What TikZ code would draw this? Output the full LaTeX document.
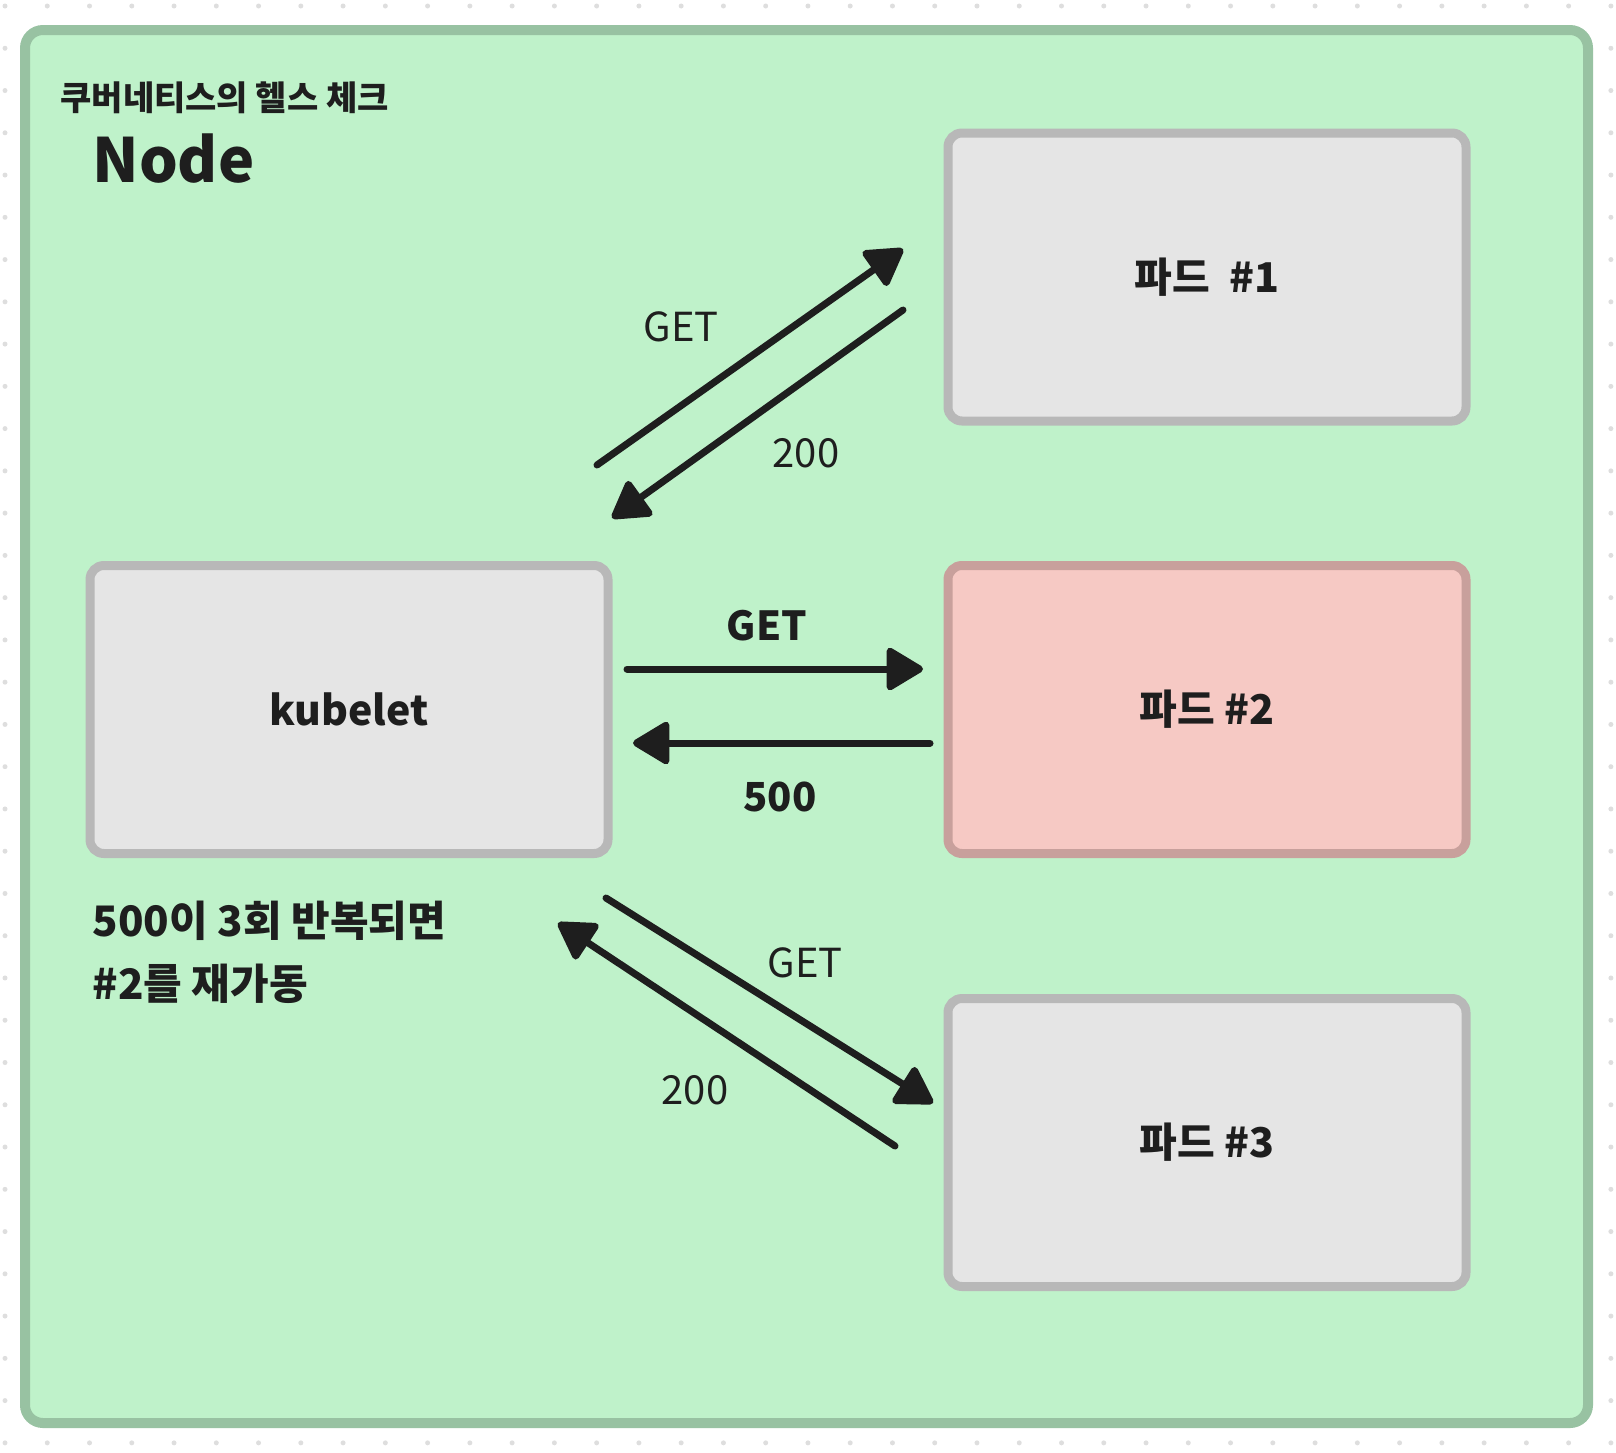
\documentclass[tikz,border=0pt]{standalone}
\usepackage{fontspec}
\setmainfont{Noto Sans CJK KR}
\usepackage{tikz}
\usetikzlibrary{arrows.meta, positioning}

\definecolor{nodegreen}{HTML}{BFF2CA}
\definecolor{nodeedge}{HTML}{98C2A2}
\definecolor{boxfill}{HTML}{E5E5E5}
\definecolor{boxedge}{HTML}{B8B8B8}
\definecolor{failfill}{HTML}{F6C9C4}
\definecolor{failedge}{HTML}{C8A09C}
\definecolor{ink}{HTML}{1E1E1E}
\definecolor{dotgray}{HTML}{DEDEDE}

\tikzset{
    podbox/.style={draw=boxedge, fill=boxfill, line width=9pt, rounded corners=14pt,
        minimum width=518pt, minimum height=288pt, text=ink,
        font=\fontsize{41}{48}\selectfont\bfseries},
    failbox/.style={podbox, draw=failedge, fill=failfill},
    msg/.style={text=ink, font=\fontsize{40}{48}\selectfont},
    msgbold/.style={msg, font=\fontsize{40}{48}\selectfont\bfseries},
    call/.style={draw=ink, line width=7pt, line cap=round, ->},
}

\begin{document}
\begin{tikzpicture}[x=1pt, y=-1pt, >={Triangle[length=40pt, width=46pt, round]}]
    \useasboundingbox (0,0) rectangle (1616,1452);

    % Canvas dots
    \foreach \i in {0,...,38}
        \foreach \j in {0,...,34}
            \fill[dotgray] ({5+42.26*\i},{6+42.26*\j}) circle (2.5pt);

    % Node frame
    \draw[draw=nodeedge, fill=nodegreen, line width=10pt, rounded corners=18pt]
        (25,30) rectangle (1588,1423);
    \node[anchor=base west, text=ink, font=\fontsize{34}{40}\selectfont\bfseries]
        (title) at (57,110) {쿠버네티스의 헬스 체크};
    \node[anchor=base west, text=ink, font=\fontsize{61}{72}\selectfont\bfseries]
        (nodename) at (89,182) {Node};

    % Boxes
    \node[podbox] (kubelet) at (349,709.5) {kubelet};
    \node[podbox] (pod1) at (1207,277) {파드\ \ \#1};
    \node[failbox] (pod2) at (1207,709.5) {파드 \#2};
    \node[podbox] (pod3) at (1207,1142.5) {파드 \#3};

    % Restart note
    \node[anchor=base west, msgbold, font=\fontsize{42}{50}\selectfont\bfseries]
        (note1) at (89,936) {500이 3회 반복되면};
    \node[anchor=base west, msgbold, font=\fontsize{42}{50}\selectfont\bfseries]
        (note2) at (89,999) {\#2를 재가동};

    % Probe ends
    \coordinate (g1s) at (597,465);
    \coordinate (g1e) at (903,249);
    \coordinate (r1s) at (903,310);
    \coordinate (r1e) at (612,518);
    \coordinate (g2s) at (627,669);
    \coordinate (g2e) at (923,669);
    \coordinate (r2s) at (930,743);
    \coordinate (r2e) at (633,743);
    \coordinate (g3s) at (606,898);
    \coordinate (g3e) at (933,1103);
    \coordinate (r3s) at (895,1146);
    \coordinate (r3e) at (558,923);

    % Probes to pod #1
    \draw[call] (g1s) -- (g1e);
    \draw[call] (r1s) -- (r1e);
    \node[msg] (get1) at (681,327) {GET};
    \node[msg] (ok1) at (806,453) {200};

    % Probes to pod #2
    \draw[call] (g2s) -- (g2e);
    \draw[call] (r2s) -- (r2e);
    \node[msgbold] (get2) at (767,626) {GET};
    \node[msgbold] (fail2) at (780,797) {500};

    % Probes to pod #3
    \draw[call] (g3s) -- (g3e);
    \draw[call] (r3s) -- (r3e);
    \node[msg] (get3) at (805,963) {GET};
    \node[msg] (ok3) at (695,1090) {200};
\end{tikzpicture}
\end{document}
